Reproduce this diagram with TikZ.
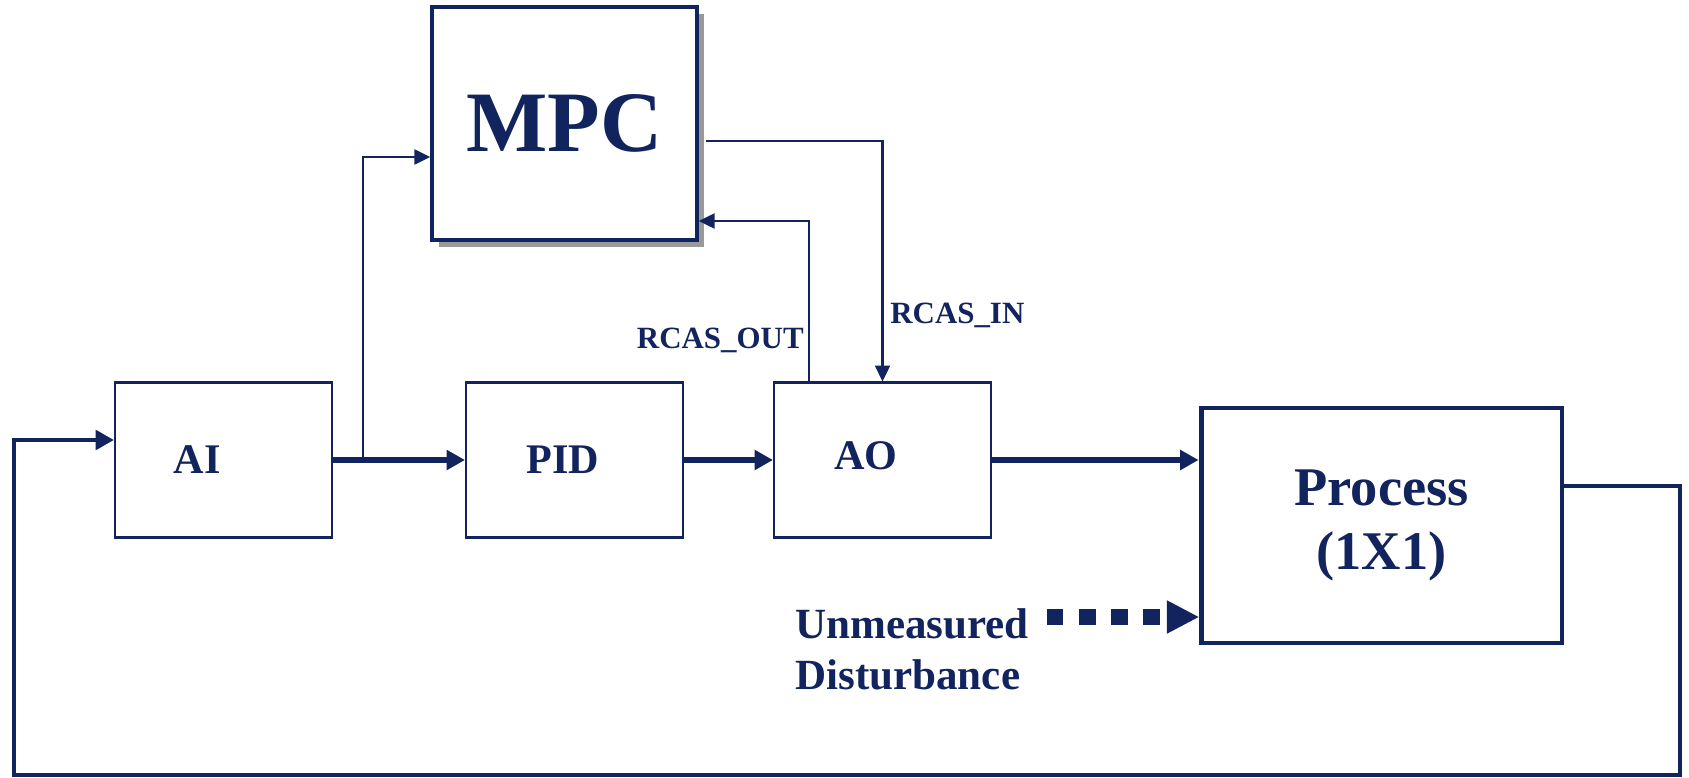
\documentclass[tikz,border=0pt]{standalone}
\usepackage{fontspec}
\setmainfont{Liberation Serif}
\usetikzlibrary{arrows.meta,calc,shadows}
\definecolor{ctlblue}{RGB}{18,36,94}

\begin{document}
\begin{tikzpicture}[x=0.02cm,y=-0.02cm,
    every node/.style={text=ctlblue,font=\bfseries},
    blk/.style={draw=ctlblue,line width=1.2pt,fill=white,inner sep=0pt,
      minimum width=4.34cm,minimum height=3.1cm},
    lbl/.style={font=\fontsize{24pt}{28pt}\selectfont\bfseries},
    sig/.style={inner sep=0pt,font=\fontsize{17.6pt}{20pt}\selectfont\bfseries},
    sigline/.style={draw=ctlblue,line width=1.2pt,-{Triangle[length=9pt,width=8.5pt]}},
    flowline/.style={draw=ctlblue,line width=2.9pt,-{Triangle[length=10.5pt,width=11pt]}}]
  \useasboundingbox (0,0) rectangle (1689,777);

  \node[blk,label={[lbl,xshift=-0.53cm]center:AI}] (ai) at (223.5,460) {};
  \node[blk,label={[lbl,xshift=-0.23cm]center:PID}] (pid) at (574.5,460) {};
  \node[blk,label={[lbl,xshift=-0.33cm,yshift=0.08cm]center:AO}] (ao) at (882.5,460) {};
  \node[blk,line width=2pt,minimum width=5.3cm,minimum height=4.66cm,
    font=\fontsize{49pt}{49pt}\selectfont\bfseries,
    drop shadow={shadow xshift=4pt,shadow yshift=-4pt,fill=black!40,opacity=1}]
    (mpc) at (564.5,123.5) {MPC};
  \node[blk,line width=2.8pt,minimum width=7.22cm,minimum height=4.7cm,align=center,
    font=\fontsize{31pt}{36pt}\selectfont\bfseries] (proc) at (1381.5,525.5) {Process\\(1X1)};

  \node[sig,anchor=base east] (rcasout) at (804,348) {RCAS\_OUT};
  \node[sig,anchor=base west] (rcasin) at (890,323) {RCAS\_IN};
  \node[inner sep=0pt,anchor=north west,align=left,
    font=\fontsize{24.5pt}{29pt}\selectfont\bfseries] (dist) at (795,608) {Unmeasured\\Disturbance};

  \draw[flowline] (ai.east) -- (pid.west);
  \draw[flowline] (pid.east) -- (ao.west);
  \draw[flowline] (ao.east) -- (ao.east -| proc.west);
  \draw[sigline] (ai.east -| 363,0) |- (mpc.west |- 0,157);
  \draw[sigline] ($(mpc.east |- 0,141)+(7,0)$) -| (ao.north);
  \draw[sigline] (ao.north -| 809,0) |- (mpc.east |- 0,221);
  \draw[flowline,line width=2.6pt] (proc.east |- 0,486) -| (1680,775) -| (14,440) -- (ai.west |- 0,440);

  \coordinate (dstart) at (1047,617);
  \draw[draw=ctlblue,line width=9.3pt,dash pattern=on 9.3pt off 9pt,
    -{Triangle[length=18pt,width=19pt,line width=0pt]}] (dstart) -- (dstart -| proc.west);
\end{tikzpicture}
\end{document}
